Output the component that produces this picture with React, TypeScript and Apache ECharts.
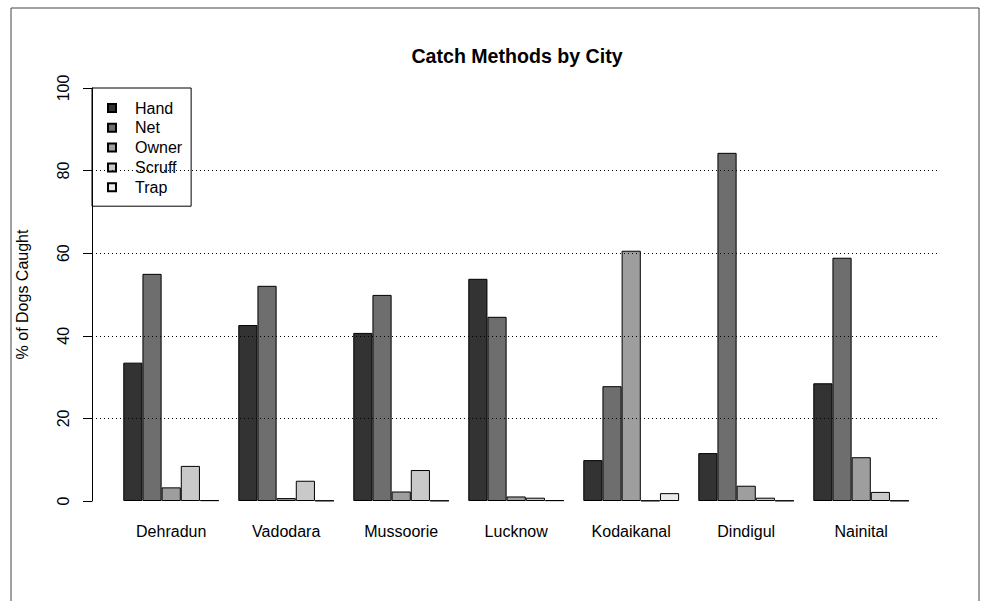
import React, { useEffect, useRef } from "react";
import * as echarts from "echarts";

const cities = ["Dehradun", "Vadodara", "Mussoorie", "Lucknow", "Kodaikanal", "Dindigul", "Nainital"];
const methods = ["Hand", "Net", "Owner", "Scruff", "Trap"];
const handVals = [33.5, 42.6, 40.7, 53.8, 9.9, 11.6, 28.5];
const netVals = [55.0, 52.1, 49.9, 44.6, 27.8, 84.3, 58.9];
const ownerVals = [3.3, 0.7, 2.3, 1.1, 60.6, 3.7, 10.6];
const scruffVals = [8.5, 4.9, 7.5, 0.8, 0.1, 0.8, 2.2];
const trapVals = [0.2, 0.1, 0.1, 0.2, 1.9, 0.1, 0.1];
const methodColors = ["#333333", "#6E6E6E", "#9E9E9E", "#C9C9C9", "#EBEBEB"];
const yTicks = [0, 20, 40, 60, 80, 100];

const FONT = "'Liberation Sans', Arial, Helvetica, sans-serif";

export default function App() {
  const ref = useRef<HTMLDivElement>(null);
  useEffect(() => {
    if (!ref.current) return;
    const chart = echarts.init(ref.current, null, { renderer: "svg" });
    const seriesVals = [handVals, netVals, ownerVals, scruffVals, trapVals];
    const gridTop = 88;
    const gridH = 413;
    chart.setOption({
      animation: false,
      backgroundColor: "#ffffff",
      textStyle: { fontFamily: FONT },
      title: {
        text: "Catch Methods by City",
        left: 512,
        top: 41,
        textAlign: "center",
        textStyle: { fontFamily: FONT, fontSize: 19.6, fontWeight: "bold", color: "#000", lineHeight: 20 },
      },
      legend: {
        orient: "vertical",
        left: 92,
        top: 88,
        data: methods,
        icon: "rect",
        itemWidth: 8,
        itemHeight: 8,
        itemGap: 3.8,
        padding: [12, 9, 11, 15],
        borderColor: "#000",
        borderWidth: 1,
        selectedMode: false,
        textStyle: { fontFamily: FONT, fontSize: 16, color: "#000", lineHeight: 16, padding: [0, 0, 0, 14] },
      },
      grid: [
        { left: 92, top: gridTop, width: 846, height: gridH, containLabel: false },
        { left: 113.7, top: gridTop, width: 805, height: gridH, containLabel: false },
      ],
      xAxis: [
        { gridIndex: 0, type: "value", min: 0, max: 1, show: false },
        {
          gridIndex: 1,
          type: "category",
          data: cities,
          axisLine: { show: false },
          axisTick: { show: false },
          axisLabel: { fontFamily: FONT, fontSize: 16, color: "#000", margin: 22, lineHeight: 16 },
        },
      ],
      yAxis: [
        {
          gridIndex: 0,
          type: "value",
          min: 0,
          max: 100,
          interval: 20,
          z: 5,
          name: "% of Dogs Caught",
          nameLocation: "middle",
          nameRotate: 90,
          nameGap: 62,
          nameTextStyle: { fontFamily: FONT, fontSize: 16, color: "#000", lineHeight: 16 },
          axisLine: { show: true, lineStyle: { color: "#000", width: 1 } },
          axisTick: { show: true, length: 9, lineStyle: { color: "#000", width: 1 } },
          axisLabel: {
            rotate: 90,
            margin: 21,
            fontFamily: FONT,
            fontSize: 16,
            color: "#000",
            lineHeight: 16,
            formatter: (v: number) => (yTicks.includes(v) ? String(v) : ""),
          },
          splitLine: {
            show: true,
            lineStyle: {
              type: [1, 3],
              width: 1,
              color: ["rgba(0,0,0,0)", "#000", "#000", "#000", "#000", "rgba(0,0,0,0)"],
            },
          },
        },
        { gridIndex: 1, type: "value", min: 0, max: 100, show: false, splitLine: { show: false } },
      ],
      graphic: [
        {
          type: "rect",
          shape: { x: 11, y: 8, width: 968, height: 640 },
          style: { fill: "none", stroke: "#444", lineWidth: 1 },
          silent: true,
          z: 0,
        },
      ],
      series: methods.map((m, i) => ({
        name: m,
        type: "bar",
        xAxisIndex: 1,
        yAxisIndex: 1,
        data: seriesVals[i],
        barGap: "0%",
        barCategoryGap: "16.667%",
        z: 2,
        itemStyle: { color: methodColors[i], borderColor: "#000", borderWidth: 1 },
      })),
    });
    return () => chart.dispose();
  }, []);
  return (
    <div
      ref={ref}
      style={{ position: "absolute", left: 0, top: 0, width: 981, height: 601, background: "#fff" }}
    />
  );
}
